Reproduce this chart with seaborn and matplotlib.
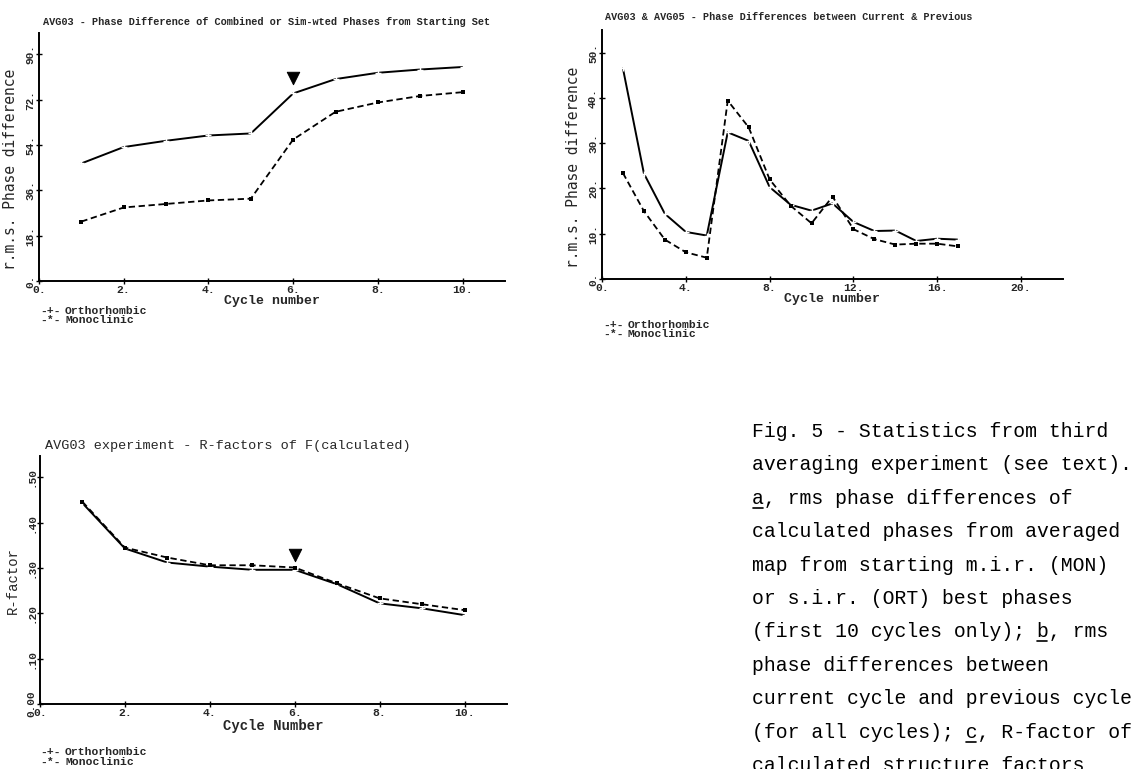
import matplotlib
matplotlib.use('Agg')
import matplotlib.pyplot as plt
import seaborn as sns
import pandas as pd
from matplotlib.lines import Line2D

# ---------------- data ----------------
cycles_a = [1, 2, 3, 4, 5, 6, 7, 8, 9, 10]
ortho_a = [46.7, 53.2, 55.7, 57.8, 58.6, 74.5, 80.2, 82.7, 84.0, 85.0]
mono_a = [23.6, 29.2, 30.6, 32.0, 32.7, 56.2, 67.2, 70.9, 73.5, 75.0]

cycles_b = list(range(1, 18))
ortho_b = [46.5, 23.3, 14.4, 10.4, 9.6, 32.4, 30.5, 20.3, 16.4, 15.1, 16.7,
           12.6, 10.6, 10.7, 8.4, 8.9, 8.7]
mono_b = [23.4, 15.0, 8.7, 5.9, 4.7, 39.4, 33.5, 22.0, 16.2, 12.3, 18.2,
          11.0, 8.8, 7.6, 7.8, 7.8, 7.2]

cycles_c = [1, 2, 3, 4, 5, 6, 7, 8, 9, 10]
ortho_c = [0.443, 0.343, 0.312, 0.303, 0.296, 0.296, 0.264, 0.222, 0.211, 0.196]
mono_c = [0.446, 0.345, 0.323, 0.306, 0.306, 0.301, 0.266, 0.233, 0.220, 0.207]

flag_cycle = [6]
flag_a = [80.7]
flag_c = [0.328]

series_names = ['Orthorhombic', 'Monoclinic']
legend_symbols = ['-+-', '-*-']

xticks_a = [0, 2, 4, 6, 8, 10]
xlabels_a = ['0.', '2.', '4.', '6.', '8.', '10.']
yticks_a = [0, 18, 36, 54, 72, 90]
ylabels_a = ['0.', '18.', '36.', '54.', '72.', '90.']
xticks_b = [0, 4, 8, 12, 16, 20]
xlabels_b = ['0.', '4.', '8.', '12.', '16.', '20.']
yticks_b = [0, 10, 20, 30, 40, 50]
ylabels_b = ['0.', '10.', '20.', '30.', '40.', '50.']
yticks_c = [0, 0.1, 0.2, 0.3, 0.4, 0.5]
ylabels_c = ['0.00', '.10', '.20', '.30', '.40', '.50']

title_a = 'AVG03 - Phase Difference of Combined or Sim-wted Phases from Starting Set'
title_b = 'AVG03 & AVG05 - Phase Differences between Current & Previous'
title_c = 'AVG03 experiment - R-factors of F(calculated)'

caption = [
    'Fig. 5 - Statistics from third',
    'averaging experiment (see text).',
    'a, rms phase differences of',
    'calculated phases from averaged',
    'map from starting m.i.r. (MON)',
    'or s.i.r. (ORT) best phases',
    '(first 10 cycles only); b, rms',
    'phase differences between',
    'current cycle and previous cycle',
    '(for all cycles); c, R-factor of',
    'calculated structure factors',
]
underlines = [(2, 0), (6, 24), (9, 18)]  # (line index, char index)

# ---------------- style ----------------
sns.set_theme(style='white')
MONO = 'Liberation Mono'
plt.rcParams['font.family'] = [MONO, 'DejaVu Sans']
plt.rcParams['axes.edgecolor'] = 'black'
plt.rcParams['axes.linewidth'] = 1.4

W, H = 1135, 769
fig = plt.figure(figsize=(W / 100, H / 100), dpi=100)
fig.patch.set_facecolor('white')


def fx(px):
    return px / W


def fy(py):
    return 1 - py / H


def make_axes(l, t, r, b):
    return fig.add_axes([fx(l), fy(b), fx(r) - fx(l), fy(t) - fy(b)])


def style_axes(ax, xt, xl, yt, yl, xlim, ylim):
    ax.set_xlim(*xlim)
    ax.set_ylim(*ylim)
    ax.set_xticks(xt)
    ax.set_xticklabels(xl, fontsize=8.2, fontweight='bold', family=MONO)
    ax.set_yticks(yt)
    ax.set_yticklabels(yl, fontsize=8.0, fontweight='bold', family=MONO,
                       rotation=90, va='center')
    for s in ['top', 'right']:
        ax.spines[s].set_visible(False)
    ax.tick_params(axis='both', direction='inout', length=5, width=1,
                   color='black', pad=0.3, left=True, bottom=True)
    ax.set_facecolor('white')
    ax.grid(False)


def draw_series(ax, x, y1, y2):
    df = pd.DataFrame({'x': list(x) * 2, 'y': list(y1) + list(y2),
                       'series': [series_names[0]] * len(x) + [series_names[1]] * len(x)})
    sns.lineplot(data=df[df.series == series_names[0]], x='x', y='y', ax=ax,
                 color='black', linewidth=1.4, marker='+', markersize=4,
                 markeredgewidth=1, legend=False)
    sns.lineplot(data=df[df.series == series_names[1]], x='x', y='y', ax=ax,
                 color='black', linewidth=1.3, linestyle=(0, (3.5, 2)),
                 marker='s', markersize=2.8, markeredgewidth=0, legend=False)
    ax.set_xlabel('')
    ax.set_ylabel('')


def legend_text(x, y1, y2):
    for yy, sym, name in zip([y1, y2], legend_symbols, series_names):
        fig.text(fx(x), fy(yy), sym, fontsize=8.2, fontweight='bold',
                 family=MONO, va='center', ha='left')
        fig.text(fx(x + 25), fy(yy), name, fontsize=8.2, fontweight='bold',
                 family=MONO, va='center', ha='left')


# ---------------- panel a ----------------
ax1 = make_axes(39, 33, 505, 281)
draw_series(ax1, cycles_a, ortho_a, mono_a)
sns.scatterplot(x=flag_cycle, y=flag_a, ax=ax1, marker='v', s=80,
                color='black', edgecolor='black', legend=False)
style_axes(ax1, xticks_a, xlabels_a, yticks_a, ylabels_a, (0, 11), (0, 98.5))
ax1.set_xlabel('Cycle number', fontsize=9.5, fontweight='bold', family=MONO,
               labelpad=0)
ax1.set_ylabel('r.m.s. Phase difference', fontsize=10.5, family='DejaVu Sans Mono')
ax1.yaxis.set_label_coords(-0.044, 0.45)
fig.text(fx(43), fy(22), title_a, fontsize=7.35, fontweight='bold',
         family=MONO, va='center', ha='left')
legend_text(40, 311, 320)

# ---------------- panel b ----------------
ax2 = make_axes(602, 30, 1063, 279)
draw_series(ax2, cycles_b, ortho_b, mono_b)
style_axes(ax2, xticks_b, xlabels_b, yticks_b, ylabels_b, (0, 22), (0, 55))
ax2.set_xlabel('Cycle number', fontsize=9.5, fontweight='bold', family=MONO,
               labelpad=0)
ax2.set_ylabel('r.m.s. Phase difference', fontsize=10.5, family='DejaVu Sans Mono')
ax2.yaxis.set_label_coords(-0.045, 0.45)
fig.text(fx(605), fy(17), title_b, fontsize=7.25, fontweight='bold',
         family=MONO, va='center', ha='left')
legend_text(603, 325, 334)

# ---------------- panel c ----------------
ax3 = make_axes(40, 456, 507, 704)
draw_series(ax3, cycles_c, ortho_c, mono_c)
sns.scatterplot(x=flag_cycle, y=flag_c, ax=ax3, marker='v', s=80,
                color='black', edgecolor='black', legend=False)
style_axes(ax3, xticks_a, xlabels_a, yticks_c, ylabels_c, (0, 11), (0, 0.547))
ax3.set_xlabel('Cycle Number', fontsize=10, fontweight='bold', family=MONO,
               labelpad=1)
ax3.set_ylabel('R-factor', fontsize=10, family=MONO)
ax3.yaxis.set_label_coords(-0.043, 0.5)
fig.text(fx(45), fy(446), title_c, fontsize=9.7, family=MONO,
         va='center', ha='left')
legend_text(40, 752, 762)

# ---------------- caption ----------------
cap_x = 752
cap_y0 = 437
cap_dy = 33.4
cap_fs = 14.2
char_w = 0.6 * cap_fs * 100 / 72
for i, line in enumerate(caption):
    yb = cap_y0 + i * cap_dy
    fig.text(fx(cap_x), fy(yb), line, fontsize=cap_fs, family=MONO,
             va='baseline', ha='left', color='black')
for li, ci in underlines:
    yb = cap_y0 + li * cap_dy + 4
    x0 = cap_x + ci * char_w + 1
    fig.add_artist(Line2D([fx(x0), fx(x0 + char_w - 2)], [fy(yb), fy(yb)],
                          color='black', linewidth=1.2,
                          transform=fig.transFigure))

fig.savefig('out.png', dpi=100, facecolor='white')
